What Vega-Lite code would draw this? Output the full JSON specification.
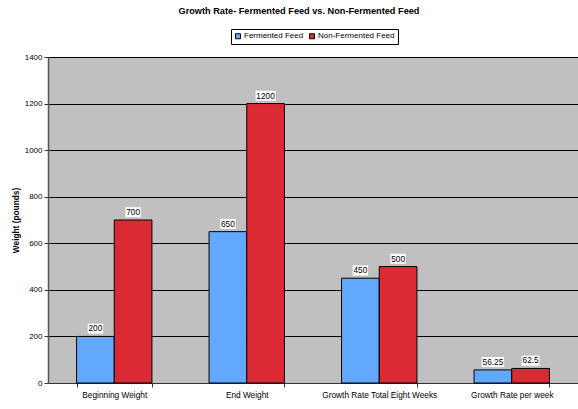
{
  "$schema": "https://vega.github.io/schema/vega-lite/v6.json",
  "width": 530,
  "height": 326,
  "autosize": {"type": "none"},
  "padding": {"left": 48, "top": 57, "right": 0, "bottom": 26},
  "background": "white",
  "config": {
    "font": "Liberation Sans",
    "view": {"fill": "#C0C0C0", "stroke": "#808080", "strokeWidth": 1}
  },
  "title": {
    "text": "Growth Rate- Fermented Feed vs. Non-Fermented Feed",
    "fontSize": 9.2,
    "fontWeight": "bold",
    "color": "black",
    "anchor": "middle",
    "dx": -14,
    "offset": 12
  },
  "data": {
    "values": [
      {"category": "Beginning Weight", "series": "Fermented Feed", "value": 200},
      {"category": "Beginning Weight", "series": "Non-Fermented Feed", "value": 700},
      {"category": "End Weight", "series": "Fermented Feed", "value": 650},
      {"category": "End Weight", "series": "Non-Fermented Feed", "value": 1200},
      {"category": "Growth Rate Total Eight Weeks", "series": "Fermented Feed", "value": 450},
      {"category": "Growth Rate Total Eight Weeks", "series": "Non-Fermented Feed", "value": 500},
      {"category": "Growth Rate per week", "series": "Fermented Feed", "value": 56.25},
      {"category": "Growth Rate per week", "series": "Non-Fermented Feed", "value": 62.5}
    ]
  },
  "transform": [
    {"calculate": "toString(datum.value)", "as": "s"},
    {"calculate": "indexof(datum.s, '.') >= 0 ? 1 : 0", "as": "dots"},
    {"calculate": "(length(datum.s) - datum.dots) * 2.3 + datum.dots * 1.2 + 0.8", "as": "w"},
    {"calculate": "'M' + (-datum.w) + ',-12.8H' + datum.w + 'V-2.8H' + (-datum.w) + 'Z'", "as": "box"}
  ],
  "encoding": {
    "x": {
      "field": "category",
      "type": "nominal",
      "sort": null,
      "scale": {"paddingInner": 0.431, "paddingOuter": 0.2155},
      "axis": {
        "title": null,
        "tickBand": "extent",
        "tickSize": 4,
        "tickColor": "#333333",
        "domainColor": "#333333",
        "labelFontSize": 8.3,
        "labelColor": "black",
        "labelPadding": 3,
        "labelAngle": 0
      }
    },
    "xOffset": {
      "field": "series",
      "type": "nominal",
      "sort": null,
      "scale": {"paddingInner": 0, "paddingOuter": 0}
    },
    "y": {
      "field": "value",
      "type": "quantitative",
      "scale": {"domain": [0, 1400], "nice": false},
      "axis": {
        "title": "Weight (pounds)",
        "titleFontSize": 8.3,
        "titleFontWeight": "bold",
        "titleColor": "black",
        "titlePadding": 4,
        "values": [0, 200, 400, 600, 800, 1000, 1200, 1400],
        "format": "d",
        "labelFontSize": 8,
        "labelColor": "black",
        "labelPadding": 2,
        "tickSize": 4,
        "tickColor": "#333333",
        "domainColor": "#555555",
        "domainWidth": 1.5,
        "gridColor": "#000000",
        "gridOpacity": 1,
        "gridWidth": 1
      }
    }
  },
  "layer": [
    {
      "mark": {"type": "bar", "stroke": "black", "strokeWidth": 1},
      "encoding": {
        "color": {
          "field": "series",
          "type": "nominal",
          "scale": {"domain": ["Fermented Feed", "Non-Fermented Feed"], "range": ["#62A8FF", "#DC2A35"]},
          "legend": {
            "orient": "none",
            "legendX": 183,
            "legendY": -28,
            "direction": "horizontal",
            "title": null,
            "strokeColor": "black",
            "fillColor": "white",
            "padding": 3,
            "symbolType": "square",
            "symbolSize": 25,
            "symbolStrokeColor": "black",
            "symbolStrokeWidth": 1,
            "labelFontSize": 8,
            "labelColor": "black",
            "labelOffset": 2,
            "columnPadding": 3
          }
        }
      }
    },
    {
      "mark": {"type": "point", "filled": true, "fill": "white", "opacity": 1, "size": 4, "strokeWidth": 0},
      "encoding": {
        "shape": {"field": "box", "type": "nominal", "scale": null}
      }
    },
    {
      "mark": {"type": "text", "dy": -5, "fontSize": 8.3, "color": "black", "baseline": "alphabetic", "align": "center"},
      "encoding": {
        "text": {"field": "value", "type": "nominal"}
      }
    }
  ]
}
